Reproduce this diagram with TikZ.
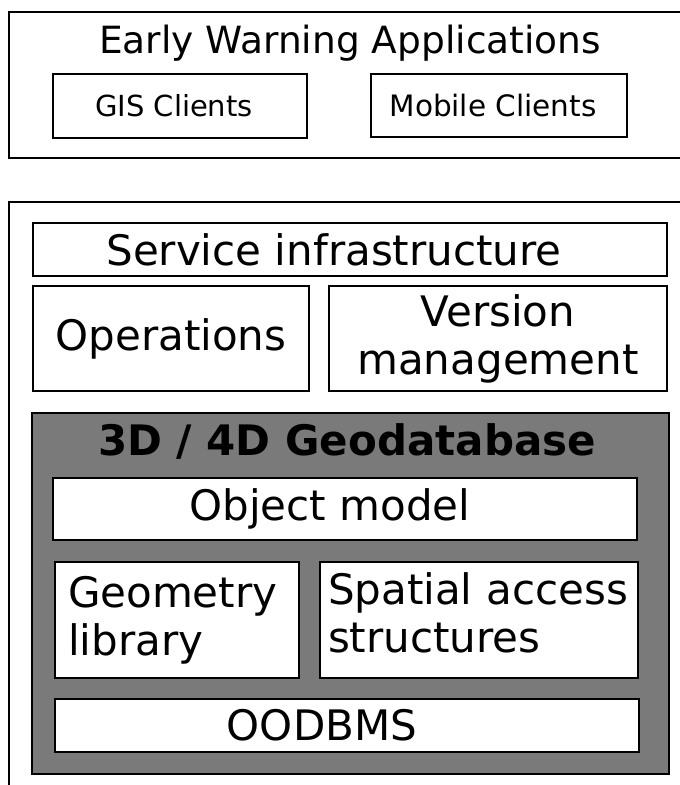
\documentclass[tikz,border=0pt]{standalone}
\usepackage{fontspec}
\setmainfont{DejaVu Sans}

\begin{document}
\begin{tikzpicture}[x=1pt, y=-1pt,
    big/.style={font=\fontsize{42}{48}\selectfont},
    frame/.style={draw, line width=2pt, inner sep=0pt},
    layer/.style={draw, line width=1.5pt, fill=white, inner sep=0pt, big},
    core/.style={draw, line width=2pt, fill=black!52, inner sep=0pt}
  ]
  \useasboundingbox (0, 0) rectangle (680, 785);
  \clip (0, 0) rectangle (680, 785);

  % applications
  \node[frame, minimum width=691pt, minimum height=146pt] (apps) at (354.5, 85) {};
  \node[font=\fontsize{37.5}{44}\selectfont] (appstitle) at (350, 43) {Early Warning Applications};
  \node[layer, font=\fontsize{29}{34}\selectfont, minimum width=254pt, minimum height=64pt] (gis) at (180, 106) {GIS Clients\kern12pt};
  \node[layer, font=\fontsize{29.5}{34}\selectfont, minimum width=256pt, minimum height=63pt] (mobile) at (499, 105.5) {Mobile Clients\kern12pt};

  % server side
  \node[frame, minimum width=691pt, minimum height=598pt] (server) at (354.5, 501) {};
  \node[layer, minimum width=634pt, minimum height=53pt] (service) at (350, 249.5) {Service infrastructure\kern32pt};
  \node[layer, minimum width=276pt, minimum height=105pt] (ops) at (171, 338.5) {Operations};
  \node[layer, align=center, minimum width=338pt, minimum height=105pt] (version) at (498, 338.5) {Version\\management};

  % geodatabase
  \node[core, minimum width=637pt, minimum height=361pt] (geodb) at (350.5, 593.5) {};
  \node[font=\fontsize{42}{48}\selectfont\bfseries] (geotitle) at (347, 441) {3D / 4D Geodatabase};
  \node[layer, minimum width=584pt, minimum height=62pt] (objmodel) at (345, 509) {Object model\kern30pt};
  \node[layer, align=left, text width=218pt, inner xsep=13pt, minimum height=116pt] (geomlib) at (177, 620) {Geometry\\library};
  \node[layer, align=left, text width=302pt, inner xsep=8pt, minimum height=116pt] (spatial) at (479, 620) {Spatial access\\structures\strut};
  \node[layer, minimum width=584pt, minimum height=53pt] (oodbms) at (347, 725.5) {OODBMS\kern50pt};
\end{tikzpicture}
\end{document}
